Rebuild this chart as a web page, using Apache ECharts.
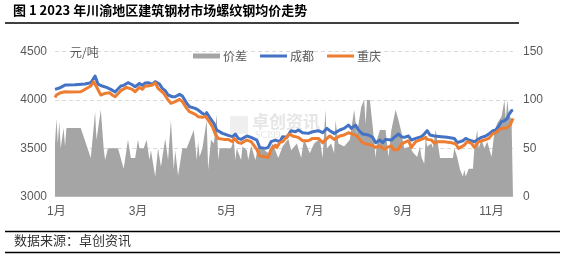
<!DOCTYPE html>
<html><head><meta charset="utf-8">
<script src="https://cdn.jsdelivr.net/npm/echarts@6/dist/echarts.min.js"></script>
<style>html,body{margin:0;padding:0;background:#fff}#c{width:564px;height:257px}</style>
</head><body><div id="c"></div>
<script>
// x values are day-of-year offsets (0 = start of January)
const monthTickDays = [1, 58, 120, 181, 243, 305];
const monthLabels = ['1月', '3月', '5月', '7月', '9月', '11月'];
const leftTicks = [3000, 3500, 4000, 4500];
const rightTicks = [0, 50, 100, 150];

const cdDays = [0,3,7,14,21,25,28,30,33,36,37,39,42,46,48,51,54,56,59,61,63,65,68,70,71,73,75,77,79,82,84,87,89,92,94,98,100,103,105,106,108,111,113,117,121,124,126,128,130,134,137,141,143,147,149,151,154,155,157,159,162,165,168,170,173,177,180,184,187,190,192,195,199,202,205,207,210,212,215,219,222,224,227,229,231,235,237,240,242,244,247,249,252,256,258,260,262,265,270,274,279,281,285,287,289,293,295,298,301,303,306,308,310,312,314,316,317,319,320];
const cdPrice = [4110,4124,4155,4158,4165,4179,4248,4165,4145,4131,4145,4110,4083,4145,4152,4179,4158,4138,4172,4152,4176,4179,4165,4190,4200,4165,4120,4097,4052,4034,4034,4059,4041,3966,3931,3914,3897,3862,3845,3869,3821,3759,3690,3655,3634,3621,3648,3603,3593,3628,3614,3586,3510,3500,3510,3569,3586,3603,3569,3621,3614,3683,3672,3690,3662,3655,3672,3683,3662,3707,3683,3655,3690,3707,3741,3707,3741,3690,3648,3638,3614,3559,3586,3559,3593,3586,3614,3648,3621,3614,3628,3586,3603,3621,3648,3683,3638,3628,3621,3614,3603,3559,3579,3603,3586,3569,3586,3614,3628,3648,3683,3690,3731,3776,3786,3810,3845,3890,3897];

const cqDays = [0,1,4,7,8,10,18,22,25,27,29,32,35,38,40,42,46,50,54,56,59,61,63,65,68,70,72,73,76,79,81,84,87,89,92,94,98,100,103,105,107,110,112,114,118,121,124,125,128,130,134,137,141,143,147,149,151,154,155,157,159,162,164,166,170,173,177,180,184,187,190,192,195,199,202,205,208,211,214,217,221,224,227,230,232,235,237,240,242,244,247,249,252,256,259,260,263,265,267,272,277,280,282,286,288,291,293,296,300,303,306,308,310,312,315,316,318,320];
const cqPrice = [4027,4052,4076,4086,4097,4083,4086,4120,4145,4190,4138,4052,4069,4076,4052,4034,4097,4131,4110,4086,4131,4110,4145,4145,4155,4179,4120,4110,4069,4000,3966,3983,4007,3983,3914,3879,3852,3828,3821,3834,3793,3724,3648,3603,3593,3593,3569,3603,3559,3552,3586,3569,3490,3421,3414,3407,3490,3534,3510,3559,3569,3621,3648,3628,3614,3579,3579,3603,3603,3559,3603,3628,3593,3628,3638,3662,3648,3628,3569,3545,3534,3510,3524,3490,3510,3524,3483,3490,3545,3559,3579,3510,3569,3593,3614,3593,3586,3552,3569,3569,3559,3545,3500,3534,3569,3552,3510,3569,3586,3603,3655,3662,3690,3707,3707,3724,3741,3810];

const diffDays = [0,1,2,3,4,6,7,8,18,25,28,29,32,34,35,37,44,48,51,53,56,58,59,62,64,66,67,70,72,74,77,79,81,83,84,86,89,92,97,99,100,101,103,106,107,109,111,113,114,115,123,125,126,127,128,130,131,134,135,137,140,142,145,149,152,156,159,163,165,169,172,174,178,181,185,187,189,190,193,195,196,198,202,206,209,211,214,216,217,218,220,222,224,225,227,231,233,235,238,240,242,244,248,250,253,255,256,258,259,260,263,264,266,268,269,278,279,281,283,285,286,287,289,292,293,295,296,298,300,302,305,307,309,312,314,315,316,317,319,320];
const diffVals = [55,81,55,78,50,71,52,71,71,40,88,59,90,50,38,50,50,29,59,40,40,59,50,50,59,38,48,21,50,31,60,38,79,28,48,22,50,50,69,38,57,41,50,79,28,59,55,85,38,50,50,59,38,50,50,38,52,48,38,53,38,52,50,45,55,40,52,60,48,55,40,60,45,55,60,40,90,50,55,45,79,55,52,59,90,65,93,100,75,100,100,72,40,59,69,69,41,69,90,79,67,50,52,46,41,52,41,34,62,52,55,50,69,50,40,40,50,41,28,21,28,21,29,29,50,69,50,59,50,57,41,67,76,83,100,79,100,86,79,81];

const pairs = (xs, ys) => xs.map((x, i) => [x, ys[i]]);
const labelColor = '#595959';
const ff = '"Liberation Sans", "Noto Sans CJK SC", sans-serif';
const cjk = '"Noto Sans CJK SC", sans-serif';

const chart = echarts.init(document.getElementById('c'), null, {renderer: 'canvas'});
chart.setOption({
  animation: false,
  backgroundColor: '#fff',
  textStyle: {fontFamily: ff},
  grid: {left: 55, right: 51, top: 51.7, bottom: 60.3},
  legend: {
    left: 188, top: 45,
    itemWidth: 27, itemHeight: 5, itemGap: 13, symbolKeepAspect: true,
    textStyle: {color: labelColor, fontSize: 12, fontFamily: cjk, padding: [0,0,0,-2]},
    data: [
      {name: '价差', icon: 'path://M0,0h27v5h-27z'},
      {name: '成都', icon: 'path://M0,0h27v3h-27z'},
      {name: '重庆', icon: 'path://M0,0h27v3h-27z'}
    ]
  },
  xAxis: {
    type: 'value', min: 0, max: 320,
    axisLine: {show: true, lineStyle: {color: '#D9D9D9', width: 1}},
    axisTick: {show: false},
    splitLine: {show: false},
    axisLabel: {
      customValues: monthTickDays,
      color: labelColor, fontSize: 12, margin: 9,
      formatter: v => monthLabels[monthTickDays.indexOf(v)]
    }
  },
  yAxis: [{
    type: 'value', min: leftTicks[0], max: leftTicks[leftTicks.length-1], interval: 500,
    axisLine: {show: false}, axisTick: {show: false},
    axisLabel: {color: labelColor, fontSize: 12, margin: 8, formatter: v => String(v)},
    splitLine: {show: true, lineStyle: {color: '#D9D9D9', type: [4, 3], width: 1}}
  }, {
    type: 'value', min: rightTicks[0], max: rightTicks[rightTicks.length-1], interval: 50,
    axisLine: {show: false}, axisTick: {show: false},
    axisLabel: {color: labelColor, fontSize: 12, margin: 10, formatter: v => String(v)},
    splitLine: {show: false}
  }],
  series: [{
    name: '价差', type: 'line', yAxisIndex: 1, symbol: 'none',
    data: pairs(diffDays, diffVals),
    itemStyle: {color: '#A5A5A5'},
    lineStyle: {width: 0, color: '#A5A5A5'},
    areaStyle: {color: '#A5A5A5', opacity: 1},
    z: 1
  }, {
    name: '成都', type: 'line', symbol: 'none',
    data: pairs(cdDays, cdPrice),
    itemStyle: {color: '#4472C4'},
    lineStyle: {width: 3, color: '#4472C4', join: 'round'},
    z: 3
  }, {
    name: '重庆', type: 'line', symbol: 'none',
    data: pairs(cqDays, cqPrice),
    itemStyle: {color: '#ED7D31'},
    lineStyle: {width: 3, color: '#ED7D31', join: 'round'},
    z: 4
  }],
  graphic: [
    {type: 'text', left: 13, top: 4, z: 10, style: {text: '图 1 2023 年川渝地区建筑钢材市场螺纹钢均价走势', fontSize: 13, fontWeight: 'bold', fill: '#000', fontFamily: cjk}},
    {type: 'line', z: 10, shape: {x1: 5, y1: 23, x2: 519, y2: 23}, style: {stroke: '#000', lineWidth: 1.5}},
    {type: 'line', z: 10, shape: {x1: 5, y1: 231.5, x2: 560, y2: 231.5}, style: {stroke: '#000', lineWidth: 1.5}},
    {type: 'line', z: 10, shape: {x1: 5, y1: 252.5, x2: 560, y2: 252.5}, style: {stroke: '#000', lineWidth: 1.5}},
    {type: 'text', left: 14, top: 234, z: 10, style: {text: '数据来源：卓创资讯', fontSize: 13, fill: '#333', fontFamily: cjk}},
    {type: 'text', left: 70, top: 46, z: 10, style: {text: '元/吨', fontSize: 12, fill: labelColor, fontFamily: cjk}},
    {type: 'text', left: 252, top: 113, z: 2, style: {text: '卓创资讯', fontSize: 17, fill: 'rgba(205,205,205,0.5)', fontWeight: 'bold', fontFamily: cjk}},
    {type: 'text', left: 255, top: 130, z: 2, style: {text: 'SCI99', fontSize: 10, fill: 'rgba(205,205,205,0.5)', fontFamily: '"Liberation Serif", serif'}},
    {type: 'rect', left: 230, top: 116, z: 2, shape: {width: 18, height: 18}, style: {fill: 'rgba(210,210,210,0.35)'}}
  ]
});
</script>
</body></html>
